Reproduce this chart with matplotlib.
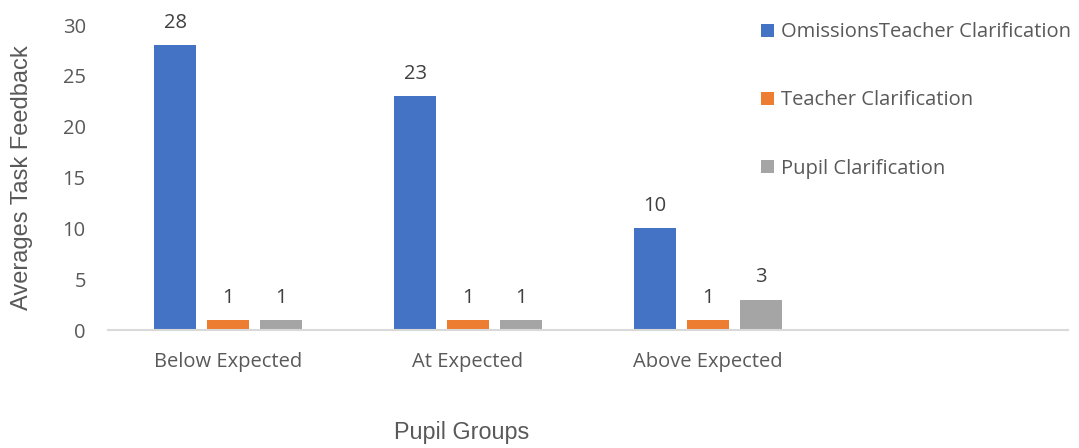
import matplotlib
matplotlib.use('Agg')
import matplotlib.pyplot as plt
import numpy as np

# Average task feedback counts per pupil group
groups = ["Below Expected", "At Expected", "Above Expected", ""]
series_names = ["OmissionsTeacher Clarification", "Teacher Clarification", "Pupil Clarification"]
omissions = [28, 23, 10, None]
teacher = [1, 1, 1, None]
pupil = [1, 1, 3, None]
colours = ["#4472C4", "#ED7D31", "#A5A5A5"]

TEXT = "#595959"
TICK_FONT = "Open Sans"
TITLE_FONT = "Liberation Sans"
FS = 14.5

fig = plt.figure(figsize=(10.79, 4.48), dpi=100)
ax = fig.add_axes([108 / 1079, 1 - 330 / 448, 960 / 1079, 305 / 448])

x = np.arange(len(groups))
width = 0.175
step = 0.22
for i, (vals, name, col) in enumerate(zip([omissions, teacher, pupil], series_names, colours)):
    xs = [xi + (i - 1) * step for xi, v in zip(x, vals) if v is not None]
    vs = [v for v in vals if v is not None]
    bars = ax.bar(xs, vs, width, color=col, label=name, zorder=2)
    for b, v in zip(bars, vs):
        ax.text(b.get_x() + b.get_width() / 2, v + 1.2, f"{v}", ha="center", va="bottom",
                fontsize=FS, color="#404040", family=TICK_FONT)

ax.set_xlim(-0.5, len(groups) - 0.5)
ax.set_ylim(0, 30)
ax.set_yticks(range(0, 31, 5))
ax.set_xticks(x)
ax.set_xticklabels(groups)
ax.tick_params(axis="both", length=0, colors=TEXT, labelsize=FS)
ax.tick_params(axis="x", pad=16)
ax.tick_params(axis="y", pad=16)
for lbl in ax.get_xticklabels() + ax.get_yticklabels():
    lbl.set_family(TICK_FONT)

for side in ("top", "right", "left"):
    ax.spines[side].set_visible(False)
ax.spines["bottom"].set_color("#D9D9D9")
ax.spines["bottom"].set_linewidth(1.5)

fig.text(22 / 1079, 1 - 178 / 448, "Averages Task Feedback", rotation=90, ha="center", va="center",
         fontsize=17, color=TEXT, family=TITLE_FONT)
fig.text(462 / 1079, 1 - 432 / 448, "Pupil Groups", ha="center", va="center",
         fontsize=16.8, color=TEXT, family=TITLE_FONT)

leg = fig.legend(loc="upper left", bbox_to_anchor=(743 / 1079, 1 - 4 / 448), frameon=False,
                 handlelength=0.62, handleheight=0.62, handletextpad=0.35, labelspacing=2.4,
                 prop={"family": TICK_FONT, "size": FS})
for t in leg.get_texts():
    t.set_color(TEXT)

fig.savefig("out.png", dpi=100)
